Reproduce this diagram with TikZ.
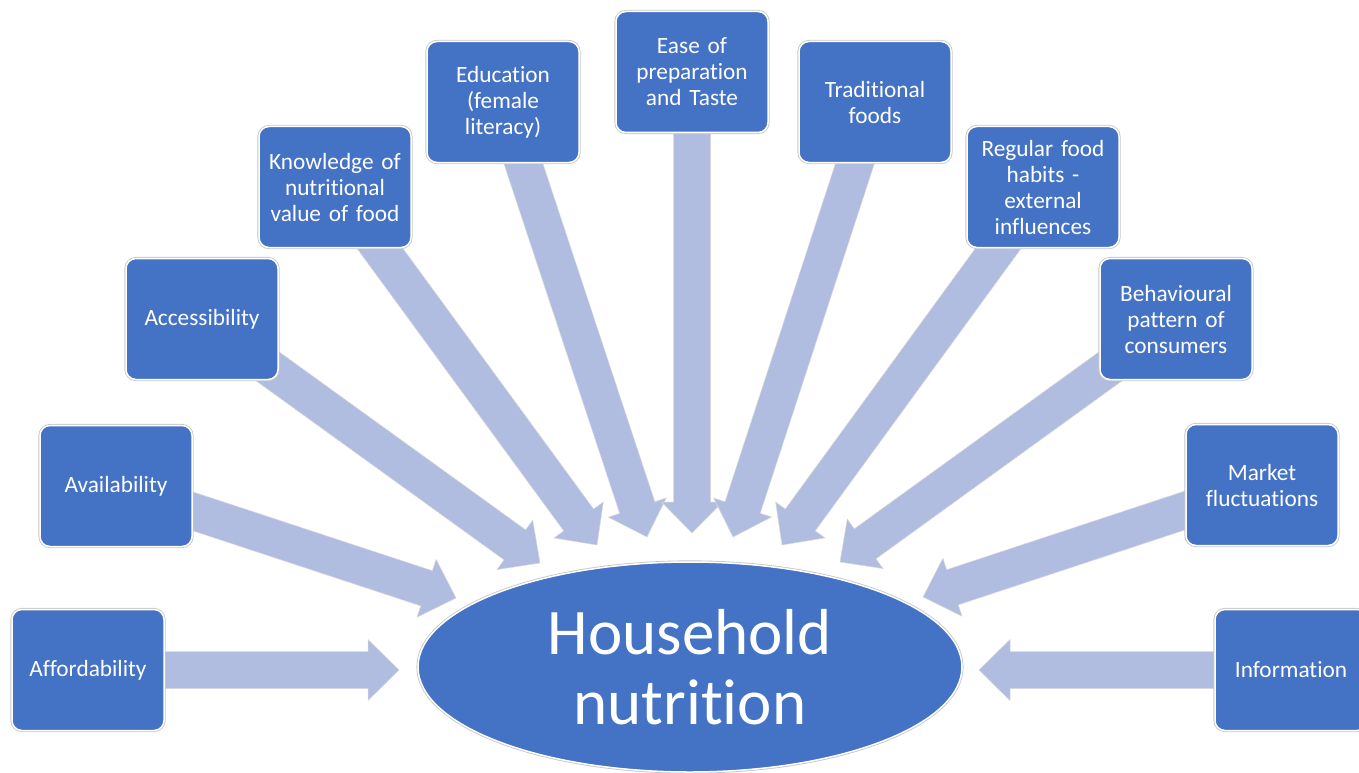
\documentclass[tikz,border=0pt]{standalone}
\usepackage{fontspec}
\setmainfont{Carlito}[Ligatures=NoCommon]
\usetikzlibrary{calc,shapes.geometric}
\pgfdeclarelayer{background}
\pgfsetlayers{background,main}
\definecolor{boxblue}{HTML}{4472C4}
\definecolor{arrowblue}{HTML}{B0BDE0}
\tikzset{
  factor/.style={draw=white, line width=1.5pt, fill=boxblue, rounded corners=10pt,
    minimum width=152pt, minimum height=121pt, text width=146pt, align=center,
    text=white, font=\fontsize{23.3}{26}\selectfont, inner sep=0pt,
    preaction={draw=black!22, line width=3.2pt}},
  hubstyle/.style={ellipse, draw=white, line width=1.5pt, fill=boxblue,
    minimum width=544pt, minimum height=210pt, inner sep=0pt, align=center,
    text=white, font=\fontsize{65}{70}\selectfont,
    preaction={draw=black!22, line width=3.2pt}},
  arrowshape/.style={fill=arrowblue, draw=black!15, line width=0.5pt, line join=miter}
}
% #1 start node, #2 tip coordinate
\newcommand\blockarrow[2]{%
  \path[arrowshape] (#2)
    -- ($(#2)!31pt!(#1)!30.5pt!90:(#1)$)
    -- ($(#2)!31pt!(#1)!18.5pt!90:(#1)$)
    -- ($(#1)!18.5pt!-90:(#2)$)
    -- ($(#1)!18.5pt!90:(#2)$)
    -- ($(#2)!31pt!(#1)!18.5pt!-90:(#1)$)
    -- ($(#2)!31pt!(#1)!30.5pt!-90:(#1)$)
    -- cycle;}
\begin{document}
\begin{tikzpicture}[x=1pt, y=-1pt]
\useasboundingbox (0,0) rectangle (1359,773);
% central ellipse
\node[hubstyle] (hub) at (690,667) {Household\\nutrition};
% factor boxes
\node[factor] (aff) at (88,670) {Affordability};
\node[factor] (avail) at (116,486) {Availability};
\node[factor] (acc) at (202,319) {Accessibility};
\node[factor] (know) at (335,187) {Knowledge of\\nutritional\\value of food};
\node[factor] (edu) at (503,102) {Education\\(female\\literacy)};
\node[factor] (ease) at (692,72) {Ease of\\preparation\\and Taste};
\node[factor] (trad) at (875,102) {Traditional\\foods};
\node[factor] (reg) at (1043,187) {Regular food\\habits -\\external\\influences};
\node[factor] (beh) at (1176,319) {Behavioural\\pattern of\\consumers};
\node[factor] (mkt) at (1262,485) {Market\\fluctuations};
\node[factor] (info) at (1291,670) {Information};
% arrow tips
\coordinate (taff) at (399,670);
\coordinate (tavail) at (456,598);
\coordinate (tacc) at (540,563);
\coordinate (tknow) at (597,545);
\coordinate (tedu) at (647,537);
\coordinate (tease) at (692,533);
\coordinate (ttrad) at (733,537);
\coordinate (treg) at (782,545);
\coordinate (tbeh) at (840,562);
\coordinate (tmkt) at (923,597);
\coordinate (tinfo) at (979,670);
\begin{pgfonlayer}{background}
\blockarrow{aff.center}{taff}
\blockarrow{avail.center}{tavail}
\blockarrow{acc.center}{tacc}
\blockarrow{know.center}{tknow}
\blockarrow{edu.center}{tedu}
\blockarrow{ease.center}{tease}
\blockarrow{trad.center}{ttrad}
\blockarrow{reg.center}{treg}
\blockarrow{beh.center}{tbeh}
\blockarrow{mkt.center}{tmkt}
\blockarrow{info.center}{tinfo}
\end{pgfonlayer}
\end{tikzpicture}
\end{document}
